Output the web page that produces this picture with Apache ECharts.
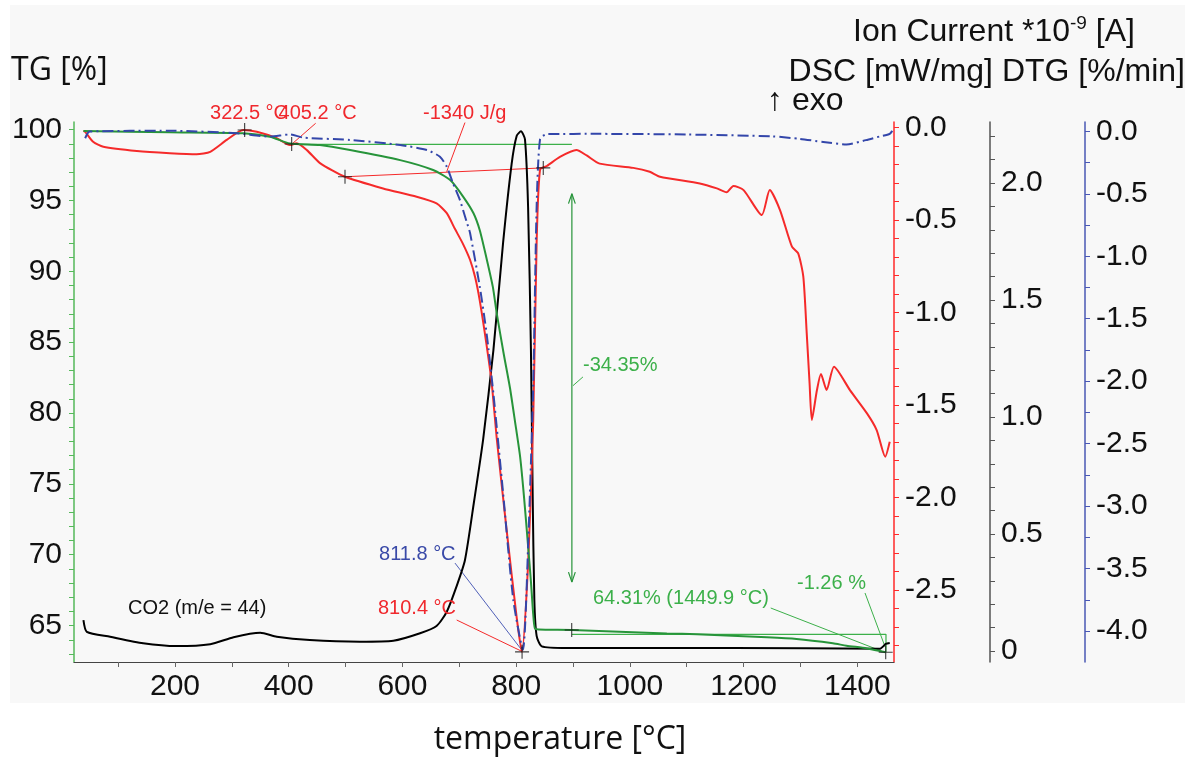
<!DOCTYPE html>
<html><head><meta charset="utf-8">
<script src="https://cdn.jsdelivr.net/npm/echarts@6/dist/echarts.min.js"></script>
<style>html,body{margin:0;padding:0;background:#fff}#c{width:1196px;height:760px}</style>
</head><body><div id="c"></div>
<script>
// ---------- data: [temperature °C, value] ----------
const tgPoints = [[39,99.90],[191,99.81],[320,99.74],[367,99.50],[402,99.03],[455,98.91],[508,98.56],[596,97.85],[654,97.15],[684,96.44],[707,95.26],[725,94.1],[736,92.9],[748,90.9],[759,88.9],[766,87.0],[778,84.2],[789,81.8],[798,79.4],[807,76.9],[814,74.0],[821,70.6],[826,68.1],[830,65.8],[833,64.8],[840,64.72],[898,64.69],[1065,64.45],[1118,64.38],[1241,64.17],[1293,64.05],[1357,63.75],[1381,63.58],[1417,63.39],[1446,63.15],[1450,63.12]];
const dscPoints = [[39,-0.018],[42,-0.022],[56,-0.076],[74,-0.103],[133,-0.126],[191,-0.138],[238,-0.144],[262,-0.130],[291,-0.066],[320,-0.012],[344,-0.022],[379,-0.057],[402,-0.094],[414,-0.084],[432,-0.121],[455,-0.191],[499,-0.265],[566,-0.328],[625,-0.373],[660,-0.409],[678,-0.462],[692,-0.545],[706,-0.625],[719,-0.715],[728,-0.810],[736,-0.935],[748,-1.175],[757,-1.380],[766,-1.683],[783,-2.167],[801,-2.650],[810,-2.833],[821,-2.358],[830,-1.585],[836,-0.623],[842,-0.226],[854,-0.207],[877,-0.158],[906,-0.121],[924,-0.150],[947,-0.194],[1006,-0.217],[1035,-0.238],[1053,-0.265],[1123,-0.301],[1153,-0.328],[1170,-0.349],[1182,-0.315],[1200,-0.337],[1232,-0.472],[1246,-0.337],[1264,-0.445],[1285,-0.643],[1296,-0.679],[1305,-0.805],[1311,-1.110],[1316,-1.380],[1320,-1.580],[1329,-1.418],[1336,-1.331],[1346,-1.418],[1359,-1.292],[1387,-1.418],[1417,-1.544],[1434,-1.634],[1449,-1.778],[1457,-1.697]];
const dtgPoints = [[42,-0.055],[50,-0.002],[191,0.005],[308,-0.015],[367,-0.042],[402,-0.025],[426,-0.050],[508,-0.069],[596,-0.109],[643,-0.149],[666,-0.203],[678,-0.283],[689,-0.416],[701,-0.549],[713,-0.725],[719,-0.816],[736,-1.243],[748,-1.617],[760,-2.1],[777,-2.894],[795,-3.752],[811.8,-4.15],[821,-3.319],[830,-2.036],[836,-0.605],[842,-0.063],[854,-0.021],[947,-0.02],[1100,-0.025],[1250,-0.04],[1299,-0.06],[1340,-0.085],[1381,-0.105],[1415,-0.07],[1440,-0.04],[1457,-0.02],[1464,0.02]];
const ionPoints = [[39,0.132],[45,0.082],[86,0.061],[144,0.033],[203,0.021],[262,0.029],[303,0.059],[350,0.078],[379,0.061],[437,0.047],[525,0.040],[584,0.044],[631,0.076],[660,0.107],[678,0.168],[695,0.275],[710,0.389],[726,0.64],[742,0.906],[760,1.286],[777,1.744],[792,2.081],[801,2.202],[808.5,2.221],[815.5,2.187],[821,1.897],[826,1.286],[829,0.675],[832,0.218],[836,0.065],[845,0.020],[889,0.013],[1181,0.013],[1440,0.010],[1450,0.030],[1457,0.034]];

// tick labels
const xTicks = [200,400,600,800,1000,1200,1400];
const tgTicks = [65,70,75,80,85,90,95,100];
const dscTicks = [0,-0.5,-1.0,-1.5,-2.0,-2.5];
const ionTicks = [0,0.5,1.0,1.5,2.0];
const dtgTicks = [0,-0.5,-1.0,-1.5,-2.0,-2.5,-3.0,-3.5,-4.0];

// evaluation markers and annotation lines (data coordinates)
const dscMarks = [[322.5,-0.012],[405.2,-0.088],[499,-0.265],[847.7,-0.217],[810.4,-2.833]];
const tgMarks = [[897.7,64.69],[1449.9,63.12]];
const dscBaseline = [[499,-0.265],[847.7,-0.217]];
const tgLevel = [[405,98.96],[898,98.96]];
const tgArrow = [[898,95.48],[898,68.07]];
const tgArrowHeads = [[892,94.78],[898,95.48],[904,94.78],null,[892,68.77],[898,68.07],[904,68.77]];
const tgStep = [[898,64.38],[1450.4,64.38],[1450.4,63.12]];
const greenLeaders = [[917.5,82.55],[899.9,81.93],null,[1247.7,66.24],[1445.2,63.16],null,[1413.5,67.30],[1448.7,63.51]];
const redLeaders = [[447.4,0.024],[407.2,-0.084],null,[710,0.028],[677.8,-0.238],null,[695.4,-2.661],[809.8,-2.83]];
const blueLeaders = [[692.4,-3.456],[809.8,-4.152]];
const notes = [
  {text:'322.5 °C', t:261.6, v:101.17, c:'#f0282d'},
  {text:'405.2 °C', t:382.2, v:101.17, c:'#f0282d'},
  {text:'-1340 J/g', t:636.2, v:101.17, c:'#f0282d'},
  {text:'811.8 °C', t:558.8, v:70.05, c:'#3a4aa8'},
  {text:'810.4 °C', t:557.0, v:66.23, c:'#f0282d'},
  {text:'CO2 (m/e = 44)', t:117.3, v:66.23, c:'#111'},
  {text:'-34.35%', t:917.5, v:83.39, c:'#3cb04a'},
  {text:'64.31% (1449.9 °C)', t:935.1, v:66.94, c:'#3cb04a'},
  {text:'-1.26 %', t:1293.9, v:68.0, c:'#3cb04a'}
];

const FONT = '"Liberation Sans", Arial, sans-serif';
const TFONT = '"Open Sans", sans-serif';
const RED = '#f52a2a', GREEN = '#27943a', BLUE = '#3346aa', AGREEN = '#3cb04a';
function steps(a, b, s) { const r = []; for (let i = 0; a + i * s <= b + 1e-9; i++) r.push(+(a + i * s).toFixed(4)); return r; }

const chart = echarts.init(document.getElementById('c'));
const plusSym = 'path://M4.6,0H5.4V4.6H10V5.4H5.4V10H4.6V5.4H0V4.6H4.6Z';
function ln(data, yi, color, width, extra) {
  return Object.assign({type:'line', data, yAxisIndex: yi, symbol:'none', clip:false, silent:true,
    lineStyle:{color, width}, itemStyle:{color}, connectNulls:false, animation:false}, extra || {});
}
const curve = {smooth:0.22};
const labelStyle = {color:'#111', fontSize:30, fontFamily:FONT};
chart.setOption({
  animation:false,
  backgroundColor:'#ffffff',
  grid:{left:74, right:302, top:122, bottom:98},
  xAxis:{type:'value', min:22.4, max:1464.5,
    axisLine:{onZero:false, lineStyle:{color:'#444', width:1}},
    axisTick:{customValues: steps(100,1400,100), length:5, lineStyle:{color:'#666'}},
    axisLabel:Object.assign({customValues:xTicks, margin:10, formatter:v=>String(v)}, labelStyle),
    splitLine:{show:false}},
  yAxis:[
    {type:'value', position:'left', min:62.43, max:100.54,
      axisLine:{show:true, lineStyle:{color:'#55b95a', width:1.5}},
      axisTick:{show:true, customValues: steps(63,100,1), length:5, lineStyle:{color:'#55b95a'}},
      axisLabel:Object.assign({customValues:tgTicks, margin:12, formatter:v=>String(v)}, labelStyle),
      splitLine:{show:false}},
    {type:'value', position:'right', offset:0, min:-2.888, max:0.031,
      axisLine:{show:true, lineStyle:{color:'#ff2a2a', width:1.5}},
      axisTick:{show:true, customValues: steps(-2.8,0,0.1), length:5, lineStyle:{color:'#ff2a2a'}},
      axisLabel:Object.assign({customValues:dscTicks, margin:11, formatter:v=>v.toFixed(1)}, labelStyle),
      splitLine:{show:false}},
    {type:'value', position:'right', offset:96, min:-0.047, max:2.261,
      axisLine:{show:true, lineStyle:{color:'#555', width:1.5}},
      axisTick:{show:true, customValues: steps(0,2.2,0.1), length:5, lineStyle:{color:'#555'}},
      axisLabel:Object.assign({customValues:ionTicks, margin:11, formatter:v=>v===0?'0':v.toFixed(1)}, labelStyle),
      splitLine:{show:false}},
    {type:'value', position:'right', offset:191, min:-4.248, max:0.075,
      axisLine:{show:true, lineStyle:{color:'#4a58b5', width:1.5}},
      axisTick:{show:true, customValues: steps(-4.25,0,0.25), length:5, lineStyle:{color:'#4a58b5'}},
      axisLabel:Object.assign({customValues:dtgTicks, margin:11, formatter:v=>v.toFixed(1)}, labelStyle),
      splitLine:{show:false}}
  ],
  series:[
    ln(dscBaseline, 1, RED, 1),
    ln(tgLevel, 0, AGREEN, 1.2),
    ln(tgArrow, 0, GREEN, 1.2),
    ln(tgArrowHeads, 0, GREEN, 1.2),
    ln(tgStep, 0, AGREEN, 1.2),
    ln(greenLeaders, 0, AGREEN, 1),
    ln(redLeaders, 1, RED, 1),
    ln(blueLeaders, 3, '#5060b8', 1),
    ln(ionPoints, 2, '#000', 2, Object.assign({z:3}, curve)),
    ln(dscPoints, 1, RED, 2, Object.assign({z:4}, curve)),
    ln(tgPoints, 0, GREEN, 2, Object.assign({z:4}, curve)),
    ln(dtgPoints, 3, BLUE, 2, Object.assign({z:5, lineStyle:{color:BLUE, width:2, type:[11,4,2,4]}}, curve)),
    {type:'scatter', yAxisIndex:1, data:dscMarks, symbol:plusSym, symbolSize:14, itemStyle:{color:'#111'}, silent:true, z:6, clip:false},
    {type:'scatter', yAxisIndex:0, data:tgMarks, symbol:plusSym, symbolSize:14, itemStyle:{color:'#111'}, silent:true, z:6, clip:false}
  ]
});

const P = (t, v) => chart.convertToPixel({xAxisIndex:0, yAxisIndex:0}, [t, v]);
const g = [
  {type:'rect', z:-100, silent:true, shape:{x:10, y:5, width:1175, height:698}, style:{fill:'#f8f8f8'}},
  {type:'text', style:{text:'TG [%]', x:11, y:71, font:'32px ' + TFONT, fill:'#111', align:'left', verticalAlign:'middle'}},
  {type:'text', style:{text:'temperature [°C]', x:560, y:740, font:'32px ' + TFONT, fill:'#111', align:'center', verticalAlign:'middle'}},
  {type:'text', style:{text:'{a|Ion Current *10}{s|-9}{a| [A]}', x:853, y:32, align:'left', verticalAlign:'middle', fill:'#111',
     rich:{a:{fontSize:32, fontFamily:FONT, lineHeight:36, fill:'#111'}, s:{fontSize:19, fontFamily:FONT, lineHeight:36, verticalAlign:'top', fill:'#111'}}}},
  {type:'text', style:{text:'DSC [mW/mg] DTG [%/min]', x:1185, y:72, font:'32px ' + FONT, fill:'#111', align:'right', verticalAlign:'middle'}},
  {type:'text', style:{text:'↑ exo', x:767, y:101, font:'32px ' + FONT, fill:'#111', align:'left', verticalAlign:'middle'}}
];
notes.forEach(n => {
  const p = P(n.t, n.v);
  g.push({type:'text', z:10, silent:true, style:{text:n.text, x:p[0], y:p[1], font:'20px ' + FONT, fill:n.c, align:'left', verticalAlign:'middle'}});
});
chart.setOption({graphic:g});
</script></body></html>
